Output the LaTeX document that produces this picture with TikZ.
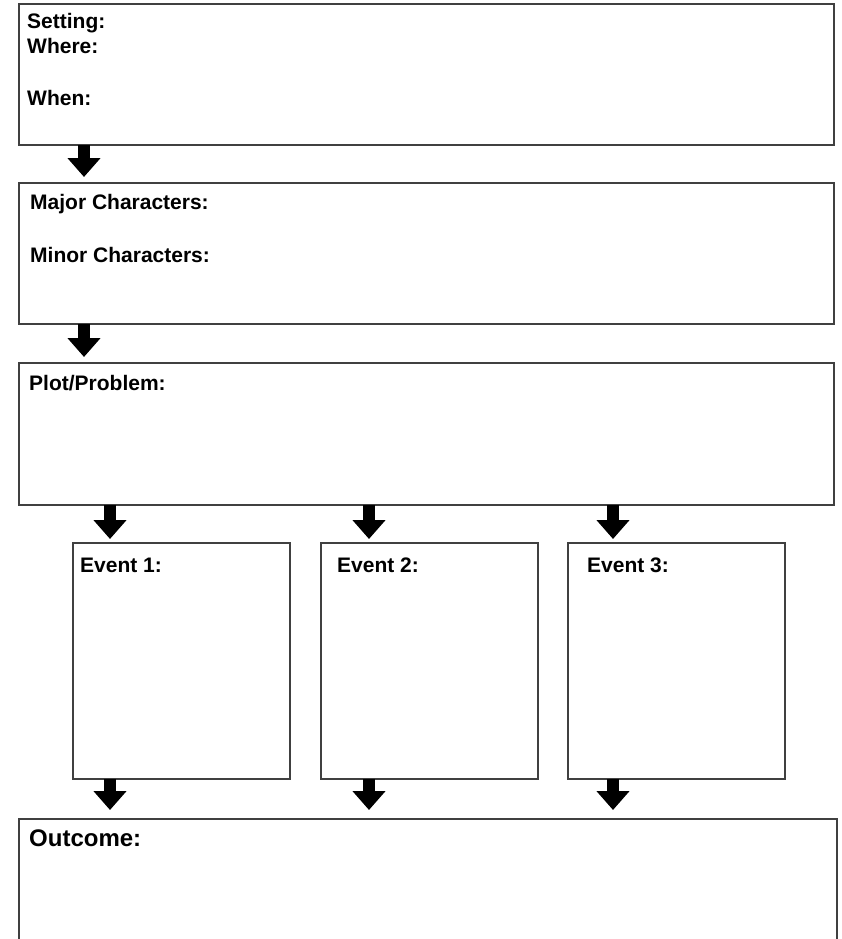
\documentclass[tikz,border=0pt]{standalone}
\usepackage{fontspec}
\setmainfont{Liberation Sans}
\usetikzlibrary{arrows.meta,positioning}

\tikzset{
  frame/.style={draw=black!75,line width=2pt,rectangle,inner sep=0pt,outer sep=0pt,anchor=north west},
  lbl/.style={anchor=base west,inner sep=0pt,font=\bfseries\fontsize{21}{25}\selectfont},
  biglbl/.style={lbl,font=\bfseries\fontsize{24}{28}\selectfont},
  flowarrow/.style={line width=12pt,-{Triangle[width=32pt,length=19pt]}}
}

\begin{document}
\begin{tikzpicture}[x=1pt,y=-1pt]
\clip (0,0) rectangle (841,939);
\useasboundingbox (0,0) rectangle (841,939);
% boxes
\node[frame,minimum width=815pt,minimum height=141pt] (setting) at (19,4) {};
\node[frame,minimum width=815pt,minimum height=141pt] (chars) at (19,183) {};
\node[frame,minimum width=815pt,minimum height=142pt] (plot) at (19,363) {};
\node[frame,minimum width=217pt,minimum height=236pt] (ev1) at (73,543) {};
\node[frame,minimum width=217pt,minimum height=236pt] (ev2) at (321,543) {};
\node[frame,minimum width=217pt,minimum height=236pt] (ev3) at (568,543) {};
\node[frame,minimum width=818pt,minimum height=150pt] (outcome) at (19,819) {};
% texts
\node[lbl] (tset) at (27,29) {Setting:};
\node[lbl] (twhere) at (27,54) {Where:};
\node[lbl] (twhen) at (27,105.5) {When:};
\node[lbl] (tmajor) at (30,209) {Major Characters:};
\node[lbl] (tminor) at (30,262) {Minor Characters:};
\node[lbl] (tplot) at (29,390) {Plot/Problem:};
\node[lbl] (tev1) at (80,572) {Event 1:};
\node[lbl] (tev2) at (337,572) {Event 2:};
\node[lbl] (tev3) at (587,572) {Event 3:};
\node[biglbl] (tout) at (29,846) {Outcome:};
% arrows
\draw[flowarrow] ([xshift=65pt]setting.south west) -- ([xshift=65pt,yshift=6pt]chars.north west);
\draw[flowarrow] ([xshift=65pt]chars.south west) -- ([xshift=65pt,yshift=6pt]plot.north west);
\draw[flowarrow] ([xshift=91pt]plot.south west) -- ([xshift=37pt,yshift=4pt]ev1.north west);
\draw[flowarrow] ([xshift=350pt]plot.south west) -- ([xshift=48pt,yshift=4pt]ev2.north west);
\draw[flowarrow] ([xshift=594pt]plot.south west) -- ([xshift=45pt,yshift=4pt]ev3.north west);
\draw[flowarrow] ([xshift=37pt]ev1.south west) -- ([xshift=91pt,yshift=9pt]outcome.north west);
\draw[flowarrow] ([xshift=48pt]ev2.south west) -- ([xshift=350pt,yshift=9pt]outcome.north west);
\draw[flowarrow] ([xshift=45pt]ev3.south west) -- ([xshift=594pt,yshift=9pt]outcome.north west);
\end{tikzpicture}
\end{document}
